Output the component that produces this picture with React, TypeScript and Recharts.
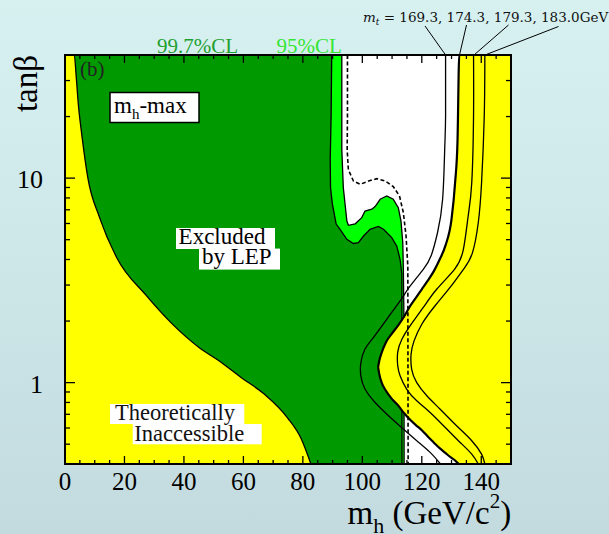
import React from 'react';
import { ComposedChart, Area, Line, XAxis, YAxis, CartesianGrid } from 'recharts';

const CHART_W = 609;
const CHART_H = 534;
const PLOT_LEFT = 65;
const PLOT_TOP = 55;
const PLOT_RIGHT = 511;
const PLOT_BOTTOM = 464;
const PLOT_W = PLOT_RIGHT - PLOT_LEFT;
const PLOT_H = PLOT_BOTTOM - PLOT_TOP;

const serif = '"Liberation Serif", "DejaVu Serif", serif';

const MH_MAX = 150;
const TB_MIN = 0.4;
const TB_MAX = 40;

// contour boundaries, as [m_h, tanβ]
const theoryLowEdge = [
  [0, 40], [3.1, 40], [3.8, 31], [4.4, 23.7], [5.7, 16.1], [7.7, 10], [11.6, 6.44],
  [17.5, 4.06], [27.3, 2.67], [35.7, 1.96], [45.5, 1.47], [51.4, 1.29], [59.2, 1.06],
  [67.0, 0.879], [74.9, 0.671], [79.4, 0.533], [82.7, 0.4],
];

const cl997Edge = [
  [0, 40], [89.7, 40], [89.5, 20], [89.2, 12.4], [89.3, 9], [89.9, 7.5], [91.2, 5.96],
  [92.5, 5.62], [94.8, 5.02], [97.0, 4.79], [98.7, 4.84], [100.4, 5.21], [102.6, 5.62],
  [105.4, 5.8], [107.1, 5.62], [109.9, 5.12], [111.6, 4.65], [112.7, 4.0], [113.3, 3.4],
  [113.35, 0.4],
];

const cl95Edge = [
  [0, 40], [93.1, 40], [93.1, 13.8], [93.6, 9], [94.8, 6.17], [95.3, 5.88], [97.6, 5.98],
  [99.8, 6.41], [100.9, 6.9], [103.2, 7.05], [104.3, 7.26], [106.0, 7.88], [108.2, 8.18],
  [110.4, 7.88], [112.1, 7.17], [113.0, 6.17], [113.6, 4.84], [113.8, 3.58], [114.0, 2.04],
  [114.05, 0.4],
];

const expectedEdge = [
  [95.0, 40], [95.0, 20], [94.9, 13.8], [95.3, 11.0], [97.0, 9.68], [99.3, 9.33],
  [102.1, 9.68], [104.9, 9.94], [107.7, 9.68], [110.4, 9.09], [112.5, 8.18], [113.8, 6.78],
  [114.7, 5.21], [115.3, 3.72], [115.4, 0.4],
];

// m_t = 174.3 GeV boundary of the allowed region
const mt1743M = [105.3, 105.7, 106.5, 108, 110, 112, 114, 116, 118, 120, 122, 124, 126, 128, 130, 131.2, 132, 132.6, 150];
const mt1743Low = [1.19, 1.1, 1.0, 0.91, 0.83, 0.775, 0.71, 0.66, 0.62, 0.585, 0.545, 0.51, 0.478, 0.452, 0.428, 0.416, 0.405, 0.4, 0.4];
const mt1743High = [1.19, 1.28, 1.4, 1.58, 1.74, 1.9, 2.1, 2.36, 2.6, 2.86, 3.15, 3.5, 4.0, 4.7, 6.3, 9.5, 15, 40, 40];

const mt1693 = [
  [128.0, 40], [128.0, 20], [127.7, 13.8], [127.0, 7.88], [125.3, 5.42], [123.2, 4.2],
  [120.5, 3.58], [116.1, 2.97], [112.7, 2.51], [108.2, 2.04], [103.7, 1.66], [100.9, 1.46],
  [99.5, 1.25], [99.5, 1.08], [100.9, 0.93], [104.3, 0.8], [108.8, 0.689], [113.8, 0.593],
  [118.3, 0.52], [122.8, 0.456], [126.3, 0.4],
];

const mt1793 = [
  [137.4, 40], [137.4, 20], [136.8, 9.5], [135.6, 6.53], [134.0, 4.49], [131.0, 3.58],
  [125.0, 2.86], [120.5, 2.33], [116.1, 1.9], [113.3, 1.63], [111.9, 1.41], [111.9, 1.21],
  [112.7, 1.08], [114.9, 0.93], [118.3, 0.815], [122.8, 0.715], [128.4, 0.593],
  [132.9, 0.51], [136.8, 0.447], [139.0, 0.4],
];

const mt1830 = [
  [141.2, 40], [141.0, 20], [140.1, 9.5], [139.0, 6.07], [137.0, 4.3], [134.0, 3.58],
  [129.5, 2.92], [124.4, 2.37], [120.0, 1.93], [117.4, 1.6], [116.4, 1.38], [116.6, 1.16],
  [118.3, 1.0], [121.7, 0.862], [126.1, 0.743], [131.7, 0.615], [136.8, 0.52],
  [140.1, 0.447], [141.2, 0.4],
];

const xTicks = [0, 5, 10, 15, 20, 25, 30, 35, 40, 45, 50, 55, 60, 65, 70, 75, 80, 85, 90, 95, 100, 105, 110, 115, 120, 125, 130, 135, 140, 145, 150];
const xLabelled = [0, 20, 40, 60, 80, 100, 120, 140];
const yTicks = [0.5, 0.6, 0.7, 0.8, 0.9, 1, 2, 3, 4, 5, 6, 7, 8, 9, 10, 20, 30];
const yLabelled = [1, 10];

const toBelow = (pts: number[][]) => pts.map(([m, t]) => ({ m, r: [TB_MIN, t] }));
const toLine = (pts: number[][]) => pts.map(([m, t]) => ({ m, t }));
const mt1743Band = mt1743M.map((m, i) => ({ m, r: [mt1743Low[i], mt1743High[i]] }));

// pixel positions of the frame ticks (drawn above the filled contours)
const tickX = (m: number) => PLOT_LEFT + (m / MH_MAX) * PLOT_W;
const tickY = (t: number) => PLOT_TOP + (Math.log10(TB_MAX / t) / Math.log10(TB_MAX / TB_MIN)) * PLOT_H;

const XTick = (props: any) => {
  const { x, y, payload } = props;
  const v = payload.value;
  if (!xLabelled.includes(v)) return <g />;
  return (
    <text x={x} y={y + 26} textAnchor="middle" fontSize={25} fontFamily={serif} fill="#000">
      {v}
    </text>
  );
};

const YTick = (props: any) => {
  const { x, y, payload } = props;
  const v = payload.value;
  if (!yLabelled.includes(v)) return <g />;
  return (
    <text x={x - 22} y={y + 10} textAnchor="end" fontSize={26} fontFamily={serif} fill="#000">
      {v}
    </text>
  );
};

const areaProps = {
  dataKey: 'r',
  type: 'linear' as const,
  fillOpacity: 1,
  stroke: '#000',
  strokeWidth: 1.3,
  dot: false,
  activeDot: false,
  isAnimationActive: false,
};

const lineProps = {
  dataKey: 't',
  type: 'natural' as const,
  stroke: '#000',
  strokeWidth: 1.3,
  dot: false,
  activeDot: false,
  isAnimationActive: false,
};

export default function App() {
  return (
    <div
      style={{
        position: 'absolute',
        left: 0,
        top: 0,
        width: CHART_W,
        height: CHART_H,
        overflow: 'hidden',
        background: 'linear-gradient(180deg, #d7f1f1 0%, #c3dbdf 100%)',
        fontFamily: serif,
      }}
    >
      <ComposedChart
        width={CHART_W}
        height={CHART_H}
        margin={{ top: PLOT_TOP, right: CHART_W - PLOT_RIGHT, bottom: 40, left: 0 }}
      >
        <CartesianGrid horizontal={false} vertical={false} fill="#fff" fillOpacity={1} />
        <Area {...areaProps} data={toBelow(cl95Edge)} fill="#00ff00" />
        <Area {...areaProps} data={toBelow(cl997Edge)} fill="#009900" />
        <Area {...areaProps} data={mt1743Band} type="monotone" fill="#ffff00" strokeWidth={2.2} />
        <Area {...areaProps} data={toBelow(theoryLowEdge)} type="monotone" fill="#ffff00" />
        <Line {...lineProps} data={toLine(expectedEdge)} type="linear" strokeWidth={1.6} strokeDasharray="4 2.5" />
        <Line {...lineProps} data={toLine(mt1693)} />
        <Line {...lineProps} data={toLine(mt1793)} />
        <Line {...lineProps} data={toLine(mt1830)} />
        <XAxis
          dataKey="m"
          type="number"
          domain={[0, MH_MAX]}
          allowDataOverflow
          ticks={xTicks}
          interval={0}
          tickSize={0}
          tickMargin={0}
          height={30}
          axisLine={false}
          tick={XTick}
        />
        <YAxis
          type="number"
          scale="log"
          domain={[TB_MIN, TB_MAX]}
          allowDataOverflow
          ticks={yTicks}
          interval={0}
          tickSize={0}
          tickMargin={0}
          width={PLOT_LEFT}
          axisLine={false}
          tick={YTick}
        />
      </ComposedChart>
      <svg
        width={CHART_W}
        height={CHART_H}
        style={{ position: 'absolute', left: 0, top: 0, pointerEvents: 'none' }}
        fontFamily={serif}
      >
        {xTicks.map((v) => {
          const len = v % 20 === 0 ? 8 : 4;
          const x = tickX(v);
          return (
            <g key={`xt${v}`} stroke="#000" strokeWidth={1.3}>
              <line x1={x} x2={x} y1={PLOT_BOTTOM} y2={PLOT_BOTTOM - len} />
              <line x1={x} x2={x} y1={PLOT_TOP} y2={PLOT_TOP + len} />
            </g>
          );
        })}
        {yTicks.map((v) => {
          const len = yLabelled.includes(v) ? 10 : 5;
          const y = tickY(v);
          return (
            <g key={`yt${v}`} stroke="#000" strokeWidth={1.3}>
              <line x1={PLOT_LEFT} x2={PLOT_LEFT + len} y1={y} y2={y} />
              <line x1={PLOT_RIGHT} x2={PLOT_RIGHT - len} y1={y} y2={y} />
            </g>
          );
        })}
        <rect x={PLOT_LEFT} y={PLOT_TOP} width={PLOT_W} height={PLOT_H} fill="none" stroke="#000" strokeWidth={2} />

        <text x={157} y={53} fontSize={21} fill="#1f9f2f">99.7%CL</text>
        <text x={276.5} y={53} fontSize={21} fill="#33e633">95%CL</text>

        <text x={363} y={21.5} fontSize={13.5} fill="#111" fontFamily='"DejaVu Serif", serif'>
          <tspan fontStyle="italic">m</tspan>
          <tspan fontStyle="italic" fontSize={9} dy={3}>t</tspan>
          <tspan dy={-3}> = 169.3, 174.3, 179.3, 183.0GeV</tspan>
        </text>
        <line x1={425} y1={26} x2={445.6} y2={55} stroke="#000" strokeWidth={1} />
        <line x1={466.5} y1={25} x2={459.5} y2={55} stroke="#000" strokeWidth={1} />
        <line x1={508.5} y1={25} x2={474} y2={55} stroke="#000" strokeWidth={1} />
        <line x1={558.5} y1={26.5} x2={485} y2={55} stroke="#000" strokeWidth={1} />

        <text x={80} y={76} fontSize={21} fill="#222">(b)</text>

        <rect x={110} y={92.5} width={89} height={30} fill="#fff" stroke="#000" strokeWidth={1.5} />
        <text x={114} y={113} fontSize={23} fill="#000">
          m<tspan fontSize={15} dy={6}>h</tspan><tspan dy={-6}>-max</tspan>
        </text>

        <rect x={176} y={228} width={99} height={21} fill="#fff" />
        <rect x={199} y={248.6} width={81} height={21} fill="#fff" />
        <text x={178.6} y={243.5} fontSize={23} fill="#000">Excluded</text>
        <text x={202} y={264} fontSize={23} fill="#000">by LEP</text>

        <rect x={110} y={404} width={134.3} height={20} fill="#fff" />
        <rect x={132.7} y={424} width={129} height={20.3} fill="#fff" />
        <text x={115} y={420} fontSize={22.5} fill="#111">Theoretically</text>
        <text x={134.3} y={441} fontSize={22.5} fill="#111">Inaccessible</text>

        <text x={37} y={83.5} fontSize={33} textAnchor="middle" fill="#000" transform="rotate(-90, 37, 83.5)">
          tanβ
        </text>
        <text x={347.6} y={524} fontSize={33} fill="#000">
          m<tspan fontSize={22} dy={9}>h</tspan>
          <tspan dy={-9}> (GeV/c</tspan>
          <tspan fontSize={21} dy={-16}>2</tspan>
          <tspan dy={16}>)</tspan>
        </text>
      </svg>
    </div>
  );
}
